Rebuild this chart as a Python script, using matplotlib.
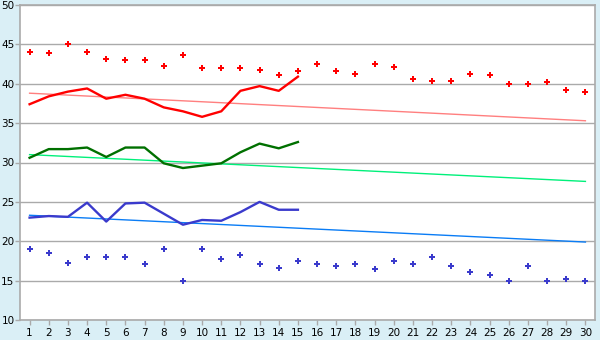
import matplotlib.pyplot as plt

days = list(range(1, 31))

# upper dots (red) and lower dots (blue), all 30 days
high_pts = [44.0, 43.9, 45.0, 44.0, 43.2, 43.0, 43.0, 42.2, 43.7, 42.0,
            42.0, 42.0, 41.8, 41.1, 41.6, 42.5, 41.6, 41.2, 42.5, 42.1,
            40.6, 40.4, 40.4, 41.2, 41.1, 40.0, 40.0, 40.2, 39.2, 39.0]
low_pts = [19.0, 18.5, 17.2, 18.0, 18.0, 18.0, 17.1, 19.0, 15.0, 19.0,
           17.8, 18.2, 17.1, 16.6, 17.5, 17.1, 16.8, 17.1, 16.5, 17.5,
           17.1, 18.0, 16.8, 16.1, 15.7, 15.0, 16.8, 15.0, 15.2, 15.0]

# measured lines, first 15 days
line_days = days[:15]
red_line = [37.4, 38.4, 39.0, 39.4, 38.1, 38.6, 38.1, 37.0, 36.5, 35.8,
            36.5, 39.1, 39.7, 39.1, 40.9]
green_line = [30.6, 31.7, 31.7, 31.9, 30.7, 31.9, 31.9, 29.9, 29.3, 29.6,
              29.9, 31.3, 32.4, 31.8, 32.6]
blue_line = [23.0, 23.2, 23.1, 24.9, 22.5, 24.8, 24.9, 23.5, 22.1, 22.7,
             22.6, 23.7, 25.0, 24.0, 24.0]

# straight reference lines (day 1 -> day 30)
trend_days = [1, 30]
red_trend = [38.8, 35.3]
green_trend = [31.0, 27.6]
blue_trend = [23.3, 19.9]

bg = "#daeff6"
grid_c = "#aaaaaa"

fig = plt.figure(figsize=(6, 3.4), dpi=100, facecolor=bg)
ax = fig.add_axes([20 / 600, 20 / 340, 575 / 600, 315 / 340])
ax.set_facecolor("white")

ax.plot(trend_days, red_trend, color="#ff7f7f", lw=1)
ax.plot(trend_days, green_trend, color="#00f07a", lw=1)
ax.plot(trend_days, blue_trend, color="#0a7cf5", lw=1)

ax.plot(line_days, red_line, color="#ff0000", lw=1.7)
ax.plot(line_days, green_line, color="#007000", lw=1.7)
ax.plot(line_days, blue_line, color="#3a3acc", lw=1.7)

ax.plot(days, high_pts, ls="none", marker="P", ms=4.5, color="#ff0000", mew=0)
ax.plot(days, low_pts, ls="none", marker="P", ms=4.5, color="#3a3acc", mew=0)

ax.set_xlim(0.5, 30.5)
ax.set_ylim(10, 50)
ax.set_xticks(days)
ax.set_yticks(range(10, 51, 5))
ax.yaxis.grid(True, color=grid_c, lw=1)
ax.set_axisbelow(True)
for s in ax.spines.values():
    s.set_color(grid_c)
    s.set_linewidth(1.2)
ax.tick_params(axis="both", colors=grid_c, labelcolor="black", labelsize=7.5,
               length=3.5, width=1)
ax.tick_params(axis="y", pad=0.5)
ax.tick_params(axis="x", pad=2)

fig.savefig("out.png", dpi=100, facecolor=bg)
